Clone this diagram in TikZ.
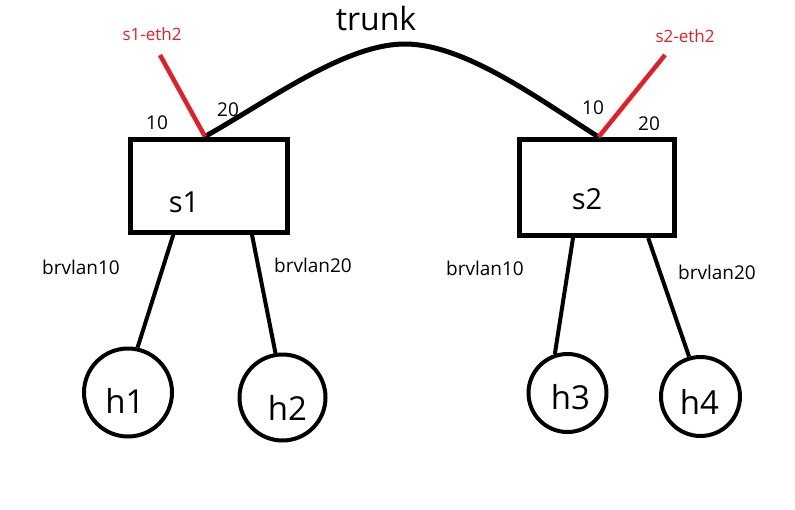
\documentclass[tikz,border=0pt]{standalone}
\usepackage{fontspec}
\setmainfont{Open Sans}
\usetikzlibrary{calc}
\definecolor{ethred}{RGB}{228,30,38}

\begin{document}
\begin{tikzpicture}[x=1pt,y=-1pt,
  switch/.style={draw,rectangle,line width=5pt,inner sep=0pt},
  host/.style={draw,circle,line width=4pt,inner sep=0pt},
  link/.style={line width=4pt},
  ethlink/.style={ethred,line width=4.5pt},
  big/.style={font=\fontsize{29}{29}\selectfont},
  huge/.style={font=\fontsize{33}{33}\selectfont},
  small/.style={font=\fontsize{19}{19}\selectfont},
  ethtext/.style={text=ethred,font=\fontsize{17}{17}\selectfont}]
  \useasboundingbox (0,0) rectangle (795,509);

  % switches
  \node[switch,minimum width=157pt,minimum height=93pt,
    label={[big,xshift=-25pt,yshift=-17pt]center:s1}] (s1) at (209,185.5) {};
  \node[switch,minimum width=155pt,minimum height=96pt,
    label={[big,xshift=-10pt,yshift=-12pt]center:s2}] (s2) at (597,187.5) {};

  % hosts
  \node[host,minimum size=88pt,label={[huge,xshift=-3pt,yshift=-8pt]center:h1}] (h1) at (128,392.5) {};
  \node[host,minimum size=86pt,label={[huge,xshift=5pt,yshift=-10pt]center:h2}] (h2) at (282.5,397.5) {};
  \node[host,minimum size=78pt,label={[huge,xshift=3pt,yshift=-4pt]center:h3}] (h3) at (567.5,393) {};
  \node[host,minimum size=79pt,label={[huge,xshift=-1pt,yshift=-5pt]center:h4}] (h4) at (700.5,396.5) {};

  \coordinate (s1p) at ($(s1.north west)!0.475!(s1.north east)$);
  \coordinate (s2p) at ($(s2.north west)!0.51!(s2.north east)$);
  \coordinate (top) at (405,44);
  \coordinate (e1) at (160,55);
  \coordinate (e2) at (665,55);

  % trunk
  \draw[line width=5pt] (s1p) .. controls (270,100) and (345,44) .. (top)
    .. controls (465,44) and (540,100) .. (s2p);
  \draw[ethlink] (s1p) -- (e1);
  \draw[ethlink] (s2p) -- (e2);

  % access links
  \draw[link] ($(s1.south west)!0.28!(s1.south east)$) -- (h1.78);
  \draw[link] ($(s1.south west)!0.765!(s1.south east)$) -- (h2.99);
  \draw[link] ($(s2.south west)!0.35!(s2.south east)$) -- (h3.108);
  \draw[link] ($(s2.south west)!0.82!(s2.south east)$) -- (h4.106);

  % labels
  \node[font=\fontsize{32}{32}\selectfont] (trunk) at (376,18) {trunk};
  \node[ethtext] (eth1) at (152,34) {s1-eth2};
  \node[ethtext] (eth2) at (685,36) {s2-eth2};
  \node[small] (p1a) at (157,123) {10};
  \node[small] (p1b) at (228,110) {20};
  \node[small] (p2a) at (593,108) {10};
  \node[small] (p2b) at (649,124) {20};
  \node[small] (v1) at (81,267) {brvlan10};
  \node[small] (v2) at (313,265) {brvlan20};
  \node[small] (v3) at (485,268) {brvlan10};
  \node[small] (v4) at (717,272) {brvlan20};
\end{tikzpicture}
\end{document}
